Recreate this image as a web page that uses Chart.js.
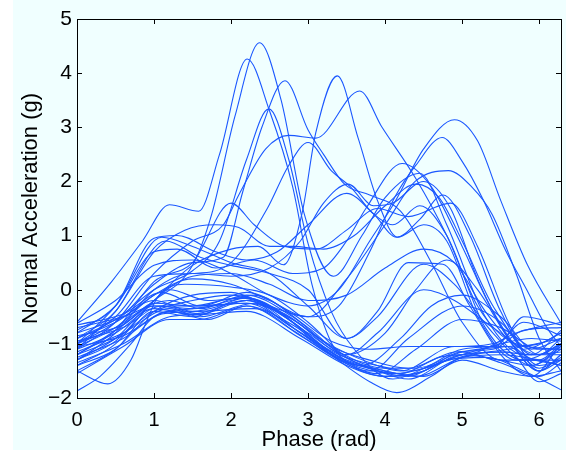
<!DOCTYPE html>
<html>
<head>
<meta charset="utf-8">
<script src="https://cdn.jsdelivr.net/npm/chart.js@4.4.1/dist/chart.umd.min.js"></script>
<style>
  html, body { margin: 0; padding: 0; background: #ffffff; }
  canvas { display: block; }
</style>
</head>
<body>
<canvas id="accelChart" width="566" height="453"></canvas>
<script>
// --- Data: phase (rad) / normal acceleration (g) key points ---
const xTicks = [0, 1, 2, 3, 4, 5, 6];
const yTicks = [-2, -1, 0, 1, 2, 3, 4, 5];

// high peaks early in the cycle
const curveA = [[0,-1.2],[0.5,-0.75],[1.0,-0.2],[1.5,0.45],[1.75,1.4],[2.05,3.2],[2.37,4.56],[2.65,3.5],[2.95,1.4],[3.33,0.25],[3.7,1.0],[4.0,1.7],[4.45,2.15],[4.8,1.2],[5.3,-0.5],[5.8,-1.2],[6.283,-1.2]];
const curveB = [[0,-0.6],[0.45,0.15],[0.85,0.9],[1.2,1.57],[1.58,1.45],[1.85,2.5],[2.21,4.26],[2.5,3.3],[2.8,1.9],[3.05,0.1],[3.35,-1.1],[3.8,-1.45],[4.2,-1.55],[4.7,-1.25],[5.2,-1.15],[5.7,-0.8],[6.283,-0.6]];
const curveC = [[0,-1.0],[0.5,-0.6],[1.0,0.1],[1.5,0.5],[1.9,0.6],[2.15,1.8],[2.4,3.0],[2.7,3.86],[3.0,2.95],[3.2,2.5],[3.48,1.94],[3.8,1.75],[4.2,1.45],[4.6,0.5],[5.0,-0.6],[5.5,-1.3],[6.0,-1.3],[6.283,-1.0]];
const curveD = [[0,-0.9],[0.5,-0.55],[1.0,0.0],[1.5,0.35],[1.85,0.9],[2.2,2.4],[2.49,3.34],[2.75,2.4],[3.0,0.85],[3.3,-0.4],[3.6,-1.1],[4.1,-1.65],[4.6,-1.4],[5.1,-1.2],[5.6,-1.1],[6.283,-0.9]];
const curveE = [[0,-1.3],[0.5,-0.95],[1.0,-0.2],[1.5,0.45],[2.0,0.75],[2.35,0.8],[2.68,0.46],[2.92,1.4],[3.1,2.9],[3.38,3.95],[3.65,2.8],[3.9,1.65],[4.16,0.97],[4.5,1.2],[4.8,0.9],[5.2,-0.5],[5.7,-1.3],[6.283,-1.3]];
const curveF = [[0,-1.1],[0.5,-0.6],[1.0,0.3],[1.5,0.9],[1.9,1.2],[2.1,1.75],[2.45,2.6],[2.75,2.85],[3.1,2.8],[3.67,3.67],[3.96,3.0],[4.4,2.05],[4.8,1.0],[5.2,-0.3],[5.7,-1.0],[6.283,-1.1]];
const curveH = [[0,-1.0],[0.5,-0.5],[1.0,0.25],[1.5,0.3],[2.0,0.5],[2.47,1.5],[2.75,2.3],[3.0,2.72],[3.3,2.2],[3.55,1.9],[3.85,1.4],[4.1,1.2],[4.45,1.55],[4.8,1.0],[5.3,-0.7],[5.8,-1.3],[6.283,-1.0]];

// peaks late in the cycle
const curveI = [[0,-0.62],[0.5,-0.2],[1.0,0.45],[1.5,0.55],[2.0,0.3],[2.5,-0.1],[3.0,-0.3],[3.4,0.0],[3.8,0.9],[4.13,1.63],[4.5,2.6],[4.9,3.14],[5.2,2.75],[5.5,1.65],[5.85,0.45],[6.283,-0.62]];
const curveJ = [[0,-1.05],[0.5,-0.7],[1.0,-0.1],[1.5,0.2],[2.0,0.1],[2.5,-0.2],[3.0,-0.5],[3.4,-0.3],[3.8,0.7],[4.13,1.72],[4.4,2.3],[4.74,2.81],[5.0,2.37],[5.27,1.67],[5.56,0.74],[5.86,-0.06],[6.1,-0.7],[6.283,-1.05]];
const curveK = [[0,-1.5],[0.5,-1.1],[1.0,-0.4],[1.5,-0.1],[2.0,-0.05],[2.5,-0.3],[3.0,-0.5],[3.5,0.2],[4.0,1.2],[4.39,2.0],[4.82,2.2],[5.13,1.89],[5.39,1.39],[5.7,0.3],[6.0,-0.9],[6.283,-1.5]];
const curveL = [[0,-0.8],[0.5,-0.3],[1.0,0.7],[1.3,0.75],[1.8,0.4],[2.3,0.55],[2.8,0.3],[3.2,0.4],[3.5,0.9],[3.75,1.5],[4.22,2.33],[4.6,1.9],[5.0,0.8],[5.4,-0.4],[5.8,-1.1],[6.283,-0.8]];
const curveM = [[0,-1.3],[0.5,-0.8],[1.0,0.0],[1.5,0.3],[2.0,0.25],[2.5,0.4],[2.9,0.9],[3.2,1.6],[3.52,1.95],[3.85,1.55],[4.1,1.6],[4.5,2.0],[4.85,1.5],[5.2,0.2],[5.6,-0.9],[6.0,-1.5],[6.283,-1.3]];
const curveN = [[0,-0.75],[0.5,-0.3],[1.0,0.95],[1.3,1.0],[1.8,0.7],[2.2,0.55],[2.6,0.7],[3.0,1.2],[3.5,1.78],[3.85,1.4],[4.15,0.97],[4.45,1.3],[4.75,1.75],[5.1,1.0],[5.5,-0.4],[5.9,-1.2],[6.283,-0.75]];
const curveO = [[0,-1.2],[0.5,-0.75],[1.0,0.15],[1.5,0.5],[2.0,1.6],[2.3,1.2],[2.7,0.8],[3.1,0.75],[3.5,1.1],[3.9,1.5],[4.3,1.35],[4.85,1.6],[5.2,0.8],[5.6,-0.6],[6.0,-1.5],[6.283,-1.2]];
const curveP = [[0,-0.9],[0.5,-0.4],[1.0,0.7],[1.4,1.1],[1.8,1.2],[2.1,1.15],[2.5,0.8],[2.8,0.8],[3.2,0.75],[3.6,1.0],[4.0,1.55],[4.4,1.95],[4.7,1.7],[5.0,0.9],[5.4,-0.3],[5.9,-1.1],[6.283,-0.9]];

// middle curves
const curveQ = [[0,-1.0],[0.5,-0.3],[1.1,0.97],[1.5,0.8],[2.0,0.5],[2.5,0.3],[3.0,-0.3],[3.5,-0.9],[3.9,-0.4],[4.3,0.5],[4.75,0.47],[5.1,-0.3],[5.5,-1.2],[5.9,-1.6],[6.283,-1.0]];
const curveR = [[0,-1.1],[0.5,-0.4],[1.15,0.9],[1.6,0.6],[2.0,0.45],[2.5,0.3],[3.0,0.0],[3.5,-0.9],[3.9,-0.5],[4.5,0.47],[4.9,0.1],[5.4,-0.8],[5.9,-1.4],[6.283,-1.1]];
const curveS = [[0,-1.4],[0.5,-1.0],[1.0,-0.2],[1.5,0.25],[2.0,0.3],[2.5,0.1],[3.0,-0.2],[3.5,-0.1],[4.0,0.4],[4.5,0.75],[4.9,0.5],[5.3,-0.4],[5.8,-1.2],[6.283,-1.4]];
const curveT = [[0,-1.2],[0.5,-0.9],[1.0,-0.4],[1.5,-0.2],[2.0,-0.1],[2.5,-0.3],[3.0,-0.8],[3.5,-1.2],[4.0,-0.8],[4.4,0.0],[4.8,0.55],[5.2,0.0],[5.6,-0.9],[6.0,-1.5],[6.283,-1.2]];
const curveU = [[0,-1.0],[0.5,-0.7],[1.0,-0.3],[1.5,-0.35],[2.0,-0.2],[2.3,-0.1],[3.0,-0.7],[3.5,-1.2],[3.9,-0.8],[4.5,0.0],[4.9,-0.2],[5.4,-0.7],[6.0,-1.2],[6.283,-1.0]];
const curveV = [[0,-0.9],[0.5,-0.6],[1.0,-0.2],[1.5,-0.4],[2.2,-0.2],[2.7,-0.5],[3.2,-1.1],[3.7,-1.4],[4.2,-0.9],[4.6,-0.3],[5.0,-0.1],[5.5,-0.5],[6.0,-1.2],[6.283,-0.9]];
const curveW = [[0,-1.3],[0.5,-0.9],[1.0,-0.3],[1.5,-0.3],[2.2,-0.25],[2.8,-0.7],[3.3,-1.2],[3.8,-1.5],[4.3,-0.9],[5.0,-0.3],[5.5,-0.6],[6.0,-1.4],[6.283,-1.3]];
const curveX = [[0,-1.1],[0.5,-0.8],[1.0,-0.35],[1.5,-0.45],[2.2,-0.2],[2.8,-0.6],[3.3,-1.15],[3.9,-1.55],[4.4,-1.1],[5.0,-0.55],[5.5,-0.7],[6.0,-1.1],[6.283,-1.1]];
const curveY = [[0,-1.4],[0.5,-1.1],[1.0,-0.4],[1.5,-0.5],[2.2,-0.15],[2.8,-0.6],[3.3,-1.2],[3.8,-1.7],[4.15,-1.9],[4.6,-1.6],[5.0,-1.25],[5.5,-1.2],[6.0,-1.3],[6.283,-1.4]];
const curveZ1 = [[0,-1.87],[0.3,-1.6],[0.7,-1.0],[1.0,-0.5],[1.5,-0.35],[2.2,-0.25],[2.8,-0.55],[3.3,-1.1],[3.8,-1.45],[4.3,-1.6],[4.8,-1.3],[5.3,-1.25],[5.8,-1.5],[6.283,-1.85]];
const curveZ2 = [[0,-1.5],[0.4,-1.74],[0.7,-1.3],[0.91,-0.56],[1.05,-0.13],[1.4,0.1],[2.0,0.05],[2.5,-0.1],[3.0,-0.6],[3.5,-1.25],[4.0,-1.5],[4.5,-1.6],[5.0,-1.3],[5.5,-1.5],[5.9,-1.6],[6.283,-1.5]];

// low bundle
const curveL1 = [[0,-0.7],[0.6,-0.5],[1.2,-0.2],[1.6,-0.35],[2.2,-0.1],[2.8,-0.5],[3.3,-1.05],[3.8,-1.3],[4.3,-1.45],[4.9,-1.15],[5.4,-1.1],[5.8,-0.75],[6.283,-0.7]];
const curveL2 = [[0,-0.95],[0.6,-0.7],[1.1,-0.3],[1.6,-0.45],[2.2,-0.2],[2.8,-0.7],[3.4,-1.2],[3.9,-1.4],[4.3,-1.5],[5.0,-1.2],[5.5,-1.0],[5.9,-0.9],[6.283,-0.95]];
const curveL3 = [[0,-1.15],[0.6,-0.8],[1.2,-0.35],[1.6,-0.5],[2.3,-0.25],[2.9,-0.8],[3.5,-1.3],[4.0,-1.5],[4.4,-1.6],[5.0,-1.25],[5.5,-1.15],[5.9,-1.2],[6.283,-1.15]];
const curveL4 = [[0,-0.85],[0.6,-0.65],[1.0,-0.25],[1.5,-0.3],[2.1,-0.15],[2.7,-0.45],[3.2,-0.95],[3.8,-1.35],[4.2,-1.5],[4.9,-1.05],[5.4,-1.05],[5.8,-0.6],[6.283,-0.85]];
const curveL5 = [[0,-1.05],[0.6,-0.85],[1.2,-0.4],[1.7,-0.55],[2.2,-0.3],[2.8,-0.65],[3.4,-1.25],[3.9,-1.5],[4.3,-1.65],[5.0,-1.2],[5.5,-1.3],[5.9,-1.4],[6.283,-1.05]];
const curveL6 = [[0,-1.25],[0.6,-0.9],[1.1,-0.45],[1.6,-0.4],[2.3,-0.35],[2.9,-0.85],[3.5,-1.35],[4.1,-1.55],[4.5,-1.45],[5.0,-1.1],[5.6,-1.05],[6.0,-1.45],[6.283,-1.25]];
const curveL7 = [[0,-0.65],[0.6,-0.45],[1.1,-0.05],[1.6,-0.3],[2.2,-0.05],[2.8,-0.45],[3.3,-0.95],[3.8,-1.1],[4.3,-1.05],[4.9,-1.05],[5.5,-0.95],[5.8,-0.5],[6.283,-0.65]];
const curveL8 = [[0,-1.35],[0.6,-1.0],[1.2,-0.5],[1.7,-0.45],[2.2,-0.4],[2.9,-0.9],[3.5,-1.4],[4.0,-1.6],[4.5,-1.5],[5.0,-1.15],[5.5,-1.35],[6.0,-1.6],[6.283,-1.35]];
const curveL9 = [[0,-0.8],[0.6,-0.5],[1.2,0.0],[1.7,-0.2],[2.2,-0.15],[2.8,-0.55],[3.4,-1.15],[4.0,-1.45],[4.4,-1.45],[5.0,-1.15],[5.6,-1.05],[6.0,-1.0],[6.283,-0.8]];
const curveL10 = [[0,-1.55],[0.6,-1.05],[1.2,-0.55],[1.6,-0.55],[2.2,-0.3],[2.8,-0.75],[3.4,-1.3],[4.0,-1.6],[4.4,-1.55],[5.0,-1.2],[5.6,-1.15],[6.0,-1.7],[6.283,-1.55]];

const curves = [
  curveA, curveB, curveC, curveD, curveE, curveF, curveH,
  curveI, curveJ, curveK, curveL, curveM, curveN, curveO, curveP,
  curveQ, curveR, curveS, curveT, curveU, curveV, curveW, curveX, curveY, curveZ1, curveZ2,
  curveL1, curveL2, curveL3, curveL4, curveL5, curveL6, curveL7, curveL8, curveL9, curveL10
];

const lineColor = '#1a57ff';
const fontFamily = "'Liberation Sans', Arial, Helvetica, sans-serif";

// background + MATLAB style box with inward ticks
const matlabFrame = {
  id: 'matlabFrame',
  beforeDraw(chart) {
    const c = chart.ctx;
    c.save();
    c.fillStyle = '#ffffff';
    c.fillRect(0, 0, chart.width, chart.height);
    c.fillStyle = '#f0ffff';
    c.fillRect(13, 0, chart.width - 13, 450);
    c.restore();
  },
  afterDraw(chart) {
    const c = chart.ctx;
    const a = chart.chartArea;
    const xs = chart.scales.x, ys = chart.scales.y;
    c.save();
    c.strokeStyle = '#000000';
    c.lineWidth = 1;
    c.beginPath();
    xTicks.forEach(t => {
      const px = Math.round(xs.getPixelForValue(t)) + 0.5;
      c.moveTo(px, a.bottom); c.lineTo(px, a.bottom - 5);
      c.moveTo(px, a.top); c.lineTo(px, a.top + 5);
    });
    yTicks.forEach(v => {
      const py = Math.round(ys.getPixelForValue(v)) + 0.5;
      c.moveTo(a.left, py); c.lineTo(a.left + 5, py);
      c.moveTo(a.right, py); c.lineTo(a.right - 5, py);
    });
    c.stroke();
    c.strokeRect(Math.round(a.left) + 0.5, Math.round(a.top) + 0.5,
                 Math.round(a.right - a.left), Math.round(a.bottom - a.top));
    c.restore();
  }
};

const ctx = document.getElementById('accelChart');
new Chart(ctx, {
  type: 'line',
  data: {
    datasets: curves.map(pts => ({
      data: pts.map(p => ({ x: p[0], y: p[1] })),
      borderColor: lineColor,
      borderWidth: 1.1,
      pointRadius: 0,
      fill: false,
      cubicInterpolationMode: 'monotone'
    }))
  },
  options: {
    responsive: false,
    animation: false,
    devicePixelRatio: 1,
    layout: { padding: { left: 13, top: 19, right: 5, bottom: 0 } },
    plugins: { legend: { display: false }, tooltip: { enabled: false } },
    scales: {
      x: {
        type: 'linear',
        min: 0,
        max: 2 * Math.PI,
        afterFit: s => { s.height = 55; },
        grid: { display: false, drawTicks: false },
        border: { display: false },
        ticks: {
          stepSize: 1,
          includeBounds: false,
          maxRotation: 0,
          padding: 10,
          color: '#000000',
          font: { family: fontFamily, size: 20 }
        },
        title: {
          display: true,
          text: 'Phase (rad)',
          color: '#000000',
          padding: { top: 0, bottom: 0 },
          font: { family: fontFamily, size: 22 }
        }
      },
      y: {
        min: -2,
        max: 5,
        afterFit: s => { s.width = 64; },
        grid: { display: false, drawTicks: false },
        border: { display: false },
        ticks: {
          stepSize: 1,
          padding: 5,
          color: '#000000',
          font: { family: fontFamily, size: 21 },
          callback: v => String(v).replace('-', '\u2212')
        },
        title: {
          display: true,
          text: 'Normal Acceleration (g)',
          color: '#000000',
          padding: { top: 5, bottom: 0 },
          font: { family: fontFamily, size: 22 }
        }
      }
    }
  },
  plugins: [matlabFrame]
});
</script>
</body>
</html>
